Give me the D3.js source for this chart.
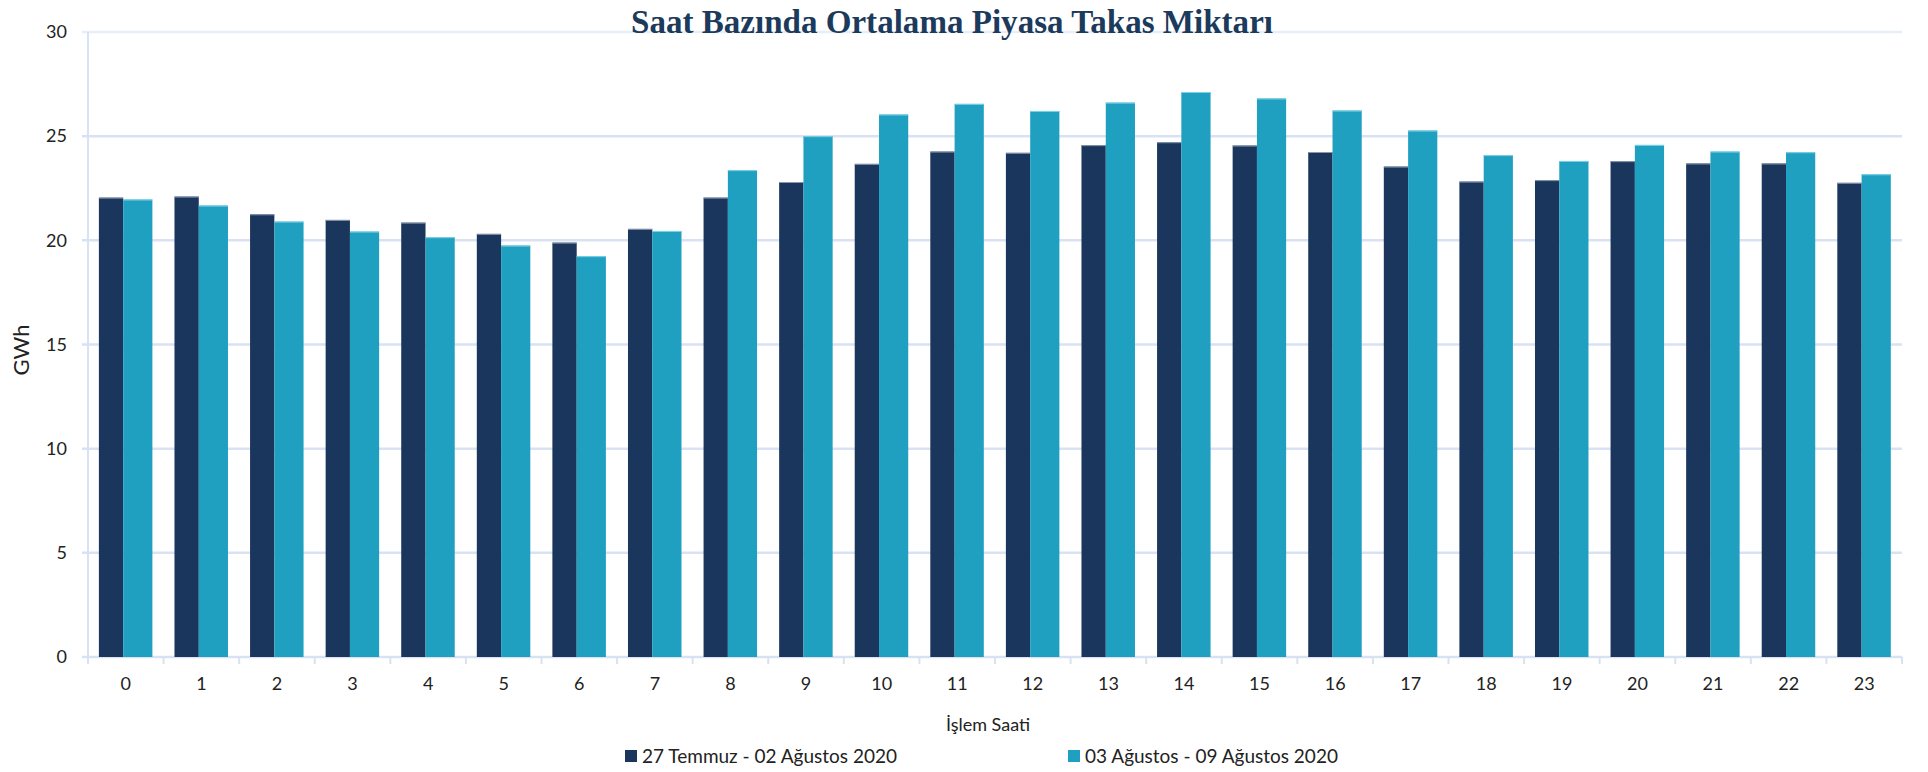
<!DOCTYPE html>
<html>
<head>
<meta charset="utf-8">
<script src="https://cdn.jsdelivr.net/npm/d3@7"></script>
<style>
  html, body { margin: 0; padding: 0; background: #ffffff; }
  svg { display: block; }
  text { font-family: "Lato", "Open Sans", "Liberation Sans", sans-serif; fill: #222222; }
</style>
</head>
<body>
<svg id="chart" width="1928" height="772"></svg>
<script>
const chartTitle = "Saat Bazında Ortalama Piyasa Takas Miktarı";
const yAxisTitle = "GWh";
const xAxisTitle = "İşlem Saati";
const hours = ["0","1","2","3","4","5","6","7","8","9","10","11","12","13","14","15","16","17","18","19","20","21","22","23"];
const seriesNames = ["27 Temmuz - 02 Ağustos 2020", "03 Ağustos - 09 Ağustos 2020"];
const week1 = [22.05, 22.10, 21.25, 20.98, 20.85, 20.31, 19.89, 20.55, 22.05, 22.80, 23.67, 24.26, 24.20, 24.57, 24.71, 24.55, 24.24, 23.54, 22.82, 22.89, 23.80, 23.69, 23.69, 22.76];
const week2 = [21.96, 21.67, 20.90, 20.42, 20.15, 19.75, 19.24, 20.45, 23.37, 25.00, 26.04, 26.55, 26.21, 26.61, 27.12, 26.81, 26.23, 25.27, 24.09, 23.81, 24.58, 24.26, 24.23, 23.17];
const yTicks = [0, 5, 10, 15, 20, 25, 30];

const colors = ["#1a365d", "#1fa0c1"];
const gridColor = "#d9e2f3";

const svg = d3.select("#chart");
const margin = {left: 88, right: 26, top: 32, bottom: 115};
const W = 1928, H = 772;
const iw = W - margin.left - margin.right;
const ih = H - margin.top - margin.bottom;
const g = svg.append("g").attr("transform", `translate(${margin.left},${margin.top})`);

const x = d3.scaleBand().domain(hours).range([0, iw]).paddingInner(0).paddingOuter(0);
const y = d3.scaleLinear().domain([0, 30]).range([ih, 0]);

// gridlines
g.append("g").selectAll("line").data(yTicks).join("line")
  .attr("x1", -6).attr("x2", iw)
  .attr("y1", d => y(d)).attr("y2", d => y(d))
  .attr("stroke", d => d === 30 ? "#e8eef8" : gridColor)
  .attr("stroke-width", 2.5);

// y axis line
g.append("line").attr("x1", 0).attr("x2", 0).attr("y1", 0).attr("y2", ih + 7)
  .attr("stroke", gridColor).attr("stroke-width", 2);

// y tick labels
const yAxis = d3.axisLeft(y).tickValues(yTicks).tickSize(0).tickPadding(21).tickFormat(d3.format("d"));
const ya = g.append("g").call(yAxis);
ya.select(".domain").remove();
ya.selectAll("text").attr("font-size", 18).attr("fill", "#222").style("font-family", "Lato, 'Open Sans', sans-serif");

// x axis ticks at band boundaries
const bounds = hours.map(h => x(h)).concat([iw]);
g.append("g").selectAll("line").data(bounds).join("line")
  .attr("x1", d => d).attr("x2", d => d)
  .attr("y1", ih).attr("y2", ih + 7)
  .attr("stroke", gridColor).attr("stroke-width", 2);

// x labels
const xAxis = d3.axisBottom(x).tickSize(0).tickPadding(20);
const xa = g.append("g").attr("transform", `translate(0,${ih})`).call(xAxis);
xa.select(".domain").remove();
xa.selectAll("text").attr("font-size", 18).attr("fill", "#222").style("font-family", "Lato, 'Open Sans', sans-serif");

// bars
const bw = x.bandwidth();
const darkW = 24.3, lightW = 29.2, split = -2.6;
const data = hours.map((h, i) => ({h, a: week1[i], b: week2[i]}));
g.append("g").selectAll("rect").data(data).join("rect")
  .attr("x", d => x(d.h) + bw / 2 + split - darkW)
  .attr("width", darkW)
  .attr("y", d => y(d.a))
  .attr("height", d => y(0) - y(d.a))
  .attr("fill", colors[0]);
g.append("g").selectAll("rect").data(data).join("rect")
  .attr("x", d => x(d.h) + bw / 2 + split)
  .attr("width", lightW)
  .attr("y", d => y(d.b))
  .attr("height", d => y(0) - y(d.b))
  .attr("fill", colors[1]);
// subtle top edges
g.append("g").selectAll("line").data(data).join("line")
  .attr("x1", d => x(d.h) + bw / 2 + split - darkW).attr("x2", d => x(d.h) + bw / 2 + split)
  .attr("y1", d => y(d.a) + 0.5).attr("y2", d => y(d.a) + 0.5)
  .attr("stroke", "#8797ad").attr("stroke-width", 1);
g.append("g").selectAll("line").data(data).join("line")
  .attr("x1", d => x(d.h) + bw / 2 + split).attr("x2", d => x(d.h) + bw / 2 + split + lightW)
  .attr("y1", d => y(d.b) + 0.5).attr("y2", d => y(d.b) + 0.5)
  .attr("stroke", "#7fd0e6").attr("stroke-width", 1);

// title
svg.append("text")
  .attr("x", 952).attr("y", 33)
  .attr("text-anchor", "middle")
  .attr("textLength", 642).attr("lengthAdjust", "spacingAndGlyphs")
  .style("font-family", "'Liberation Serif', 'DejaVu Serif', serif")
  .style("font-weight", "bold")
  .style("font-size", "33px")
  .style("fill", "#1b3a5c")
  .text(chartTitle);

// y axis title
svg.append("text")
  .attr("transform", "translate(29,350) rotate(-90)")
  .attr("text-anchor", "middle")
  .attr("font-size", 22)
  .attr("fill", "#222")
  .text(yAxisTitle);

// x axis title
svg.append("text")
  .attr("x", 988).attr("y", 731)
  .attr("text-anchor", "middle")
  .attr("font-size", 18)
  .attr("fill", "#222")
  .text(xAxisTitle);

// legend
const legendX = [625, 1068];
const lg = svg.append("g");
seriesNames.forEach((name, i) => {
  lg.append("rect").attr("x", legendX[i]).attr("y", 750).attr("width", 12).attr("height", 12).attr("fill", colors[i]);
  lg.append("text").attr("x", legendX[i] + 17).attr("y", 762.5)
    .attr("font-size", 19).attr("fill", "#222").text(name);
});
</script>
</body>
</html>
